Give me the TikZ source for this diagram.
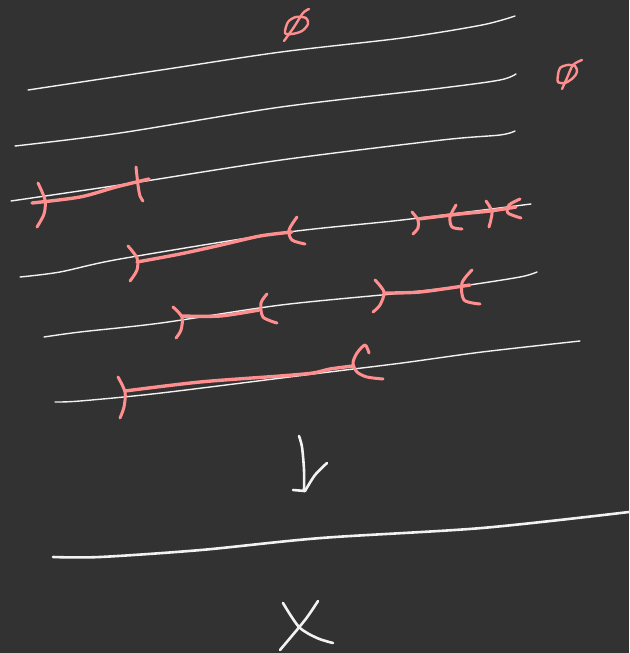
\documentclass[tikz,border=0pt]{standalone}
\begin{document}
\definecolor{bg}{HTML}{323232}
\definecolor{pink}{HTML}{FF8E8E}
\definecolor{chalk}{HTML}{F2F2F2}
\begin{tikzpicture}[x=1pt,y=-1pt,line cap=round,line join=round,
  wline/.style={draw=chalk,line width=1.4pt},
  wthick/.style={draw=chalk,line width=2.6pt},
  pseg/.style={draw=pink,line width=3.4pt},
  pmark/.style={draw=pink,line width=3pt},
  psym/.style={draw=pink,line width=2.4pt}]
\fill[bg] (0,0) rectangle (629,653);
\useasboundingbox (0,0) rectangle (629,653);
% empty-set symbols
\draw[psym] plot[smooth cycle] coordinates {(285,33) (288,22) (296,17) (306,18) (308,24) (302,31) (292,34)};
\draw[psym] plot[smooth] coordinates {(309,9) (303,13) (294,27) (284,41)};
\draw[psym] plot[smooth cycle] coordinates {(558,75) (560,68) (567,65) (575,66) (577,72) (573,78) (565,83) (558,82)};
\draw[psym] plot[smooth] coordinates {(582,60) (573,65) (567,78) (562,89)};
% white lines
\draw[wline] plot[smooth] coordinates {(28,90) (161,70) (281,52) (402,38) (482,25) (515,16)};
\draw[wline] plot[smooth] coordinates {(15,146) (120,133) (281,107) (442,88) (500,80) (516,74)};
\draw[wline] plot[smooth] coordinates {(11,201) (133,183) (281,160) (442,140) (500,135) (515,131)};
\draw[wline] plot[smooth] coordinates {(20,277) (60,272) (120,259) (281,233) (402,220) (531,204)};
\draw[wline] plot[smooth] coordinates {(44,337) (80,332) (161,323) (281,305) (402,293) (462,286) (520,277) (537,272)};
\draw[wline] plot[smooth] coordinates {(55,402) (80,401) (161,393) (321,373) (402,363) (482,352) (580,341)};
% line 3 intervals
\draw[pseg] plot[smooth] coordinates {(32,203) (80,197) (116,187) (149,179)};
\draw[pmark] plot[smooth] coordinates {(38,183) (45,200) (44,214) (37,227)};
\draw[pmark] plot[smooth] coordinates {(136,167) (138,185) (140,196) (143,201)};
% line 4 intervals
\draw[pseg] plot[smooth] coordinates {(137,262) (180,254) (221,245) (260,236) (292,232)};
\draw[pmark] plot[smooth] coordinates {(128,246) (137,258) (137,270) (130,281)};
\draw[pmark] plot[smooth] coordinates {(297,217) (289,230) (292,240) (305,244)};
\draw[pseg] plot[smooth] coordinates {(418,219) (460,214) (490,211) (516,207)};
\draw[pmark] plot[smooth] coordinates {(412,212) (418,220) (418,228) (413,234)};
\draw[pmark] plot[smooth] coordinates {(456,205) (450,217) (452,227) (462,229)};
\draw[pmark] plot[smooth] coordinates {(486,201) (492,212) (489,227)};
\draw[pmark] plot[smooth] coordinates {(520,199) (509,205) (508,213) (521,218)};
% line 5 intervals
\draw[pseg] plot[smooth] coordinates {(182,316) (220,316) (259,310)};
\draw[pmark] plot[smooth] coordinates {(173,307) (182,317) (181,330) (176,338)};
\draw[pmark] plot[smooth] coordinates {(267,294) (261,303) (263,317) (277,323)};
\draw[pseg] plot[smooth] coordinates {(384,293) (420,292) (470,285)};
\draw[pmark] plot[smooth] coordinates {(375,280) (384,292) (380,305) (373,312)};
\draw[pmark] plot[smooth] coordinates {(472,270) (462,283) (464,300) (480,304)};
% line 6 interval
\draw[pseg] plot[smooth] coordinates {(125,391) (200,382) (280,376) (313,373) (330,369) (353,366)};
\draw[pmark] plot[smooth] coordinates {(118,377) (125,392) (124,407) (120,418)};
\draw[pmark] plot[smooth] coordinates {(369,353) (365,345) (357,353) (353,363) (357,372) (367,377) (383,379)};
% arrow
\draw[wthick] plot[smooth] coordinates {(299,436) (302,447) (304,470) (304,491)};
\draw[wthick] (293,490) -- (305,491);
\draw[wthick] plot[smooth] coordinates {(305,491) (315,475) (327,463)};
% bottom line
\draw[wthick] plot[smooth] coordinates {(53,557) (100,557) (201,550) (321,538) (482,528) (629,512)};
% X
\draw[wthick] plot[smooth] coordinates {(283,603) (299,627) (317,638) (333,643)};
\draw[wthick] plot[smooth] coordinates {(318,601) (305,620) (280,650)};
\end{tikzpicture}
\end{document}
